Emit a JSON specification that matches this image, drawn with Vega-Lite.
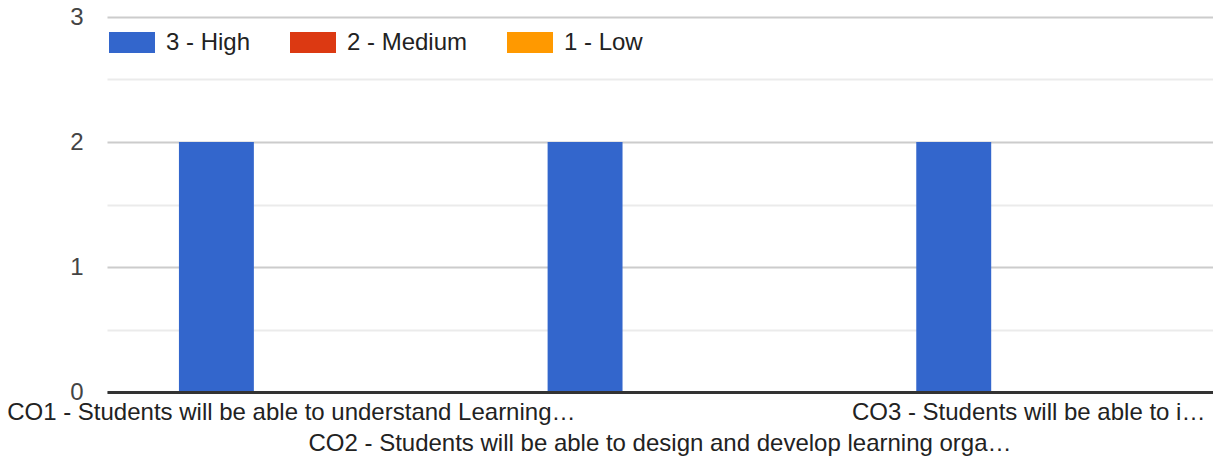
{
  "$schema": "https://vega.github.io/schema/vega-lite/v6.json",
  "autosize": {"type": "none"},
  "padding": {"left": 107, "top": 17, "right": 0, "bottom": 69},
  "width": 1106,
  "height": 375,
  "background": "white",
  "config": {
    "view": {"stroke": null},
    "font": "Liberation Sans"
  },
  "data": {
    "values": [
      {"course": "CO1 - Students will be able to understand Learning…", "level": "3 - High", "count": 2},
      {"course": "CO1 - Students will be able to understand Learning…", "level": "2 - Medium", "count": 0},
      {"course": "CO1 - Students will be able to understand Learning…", "level": "1 - Low", "count": 0},
      {"course": "CO2 - Students will be able to design and develop learning orga…", "level": "3 - High", "count": 2},
      {"course": "CO2 - Students will be able to design and develop learning orga…", "level": "2 - Medium", "count": 0},
      {"course": "CO2 - Students will be able to design and develop learning orga…", "level": "1 - Low", "count": 0},
      {"course": "CO3 - Students will be able to i…", "level": "3 - High", "count": 2},
      {"course": "CO3 - Students will be able to i…", "level": "2 - Medium", "count": 0},
      {"course": "CO3 - Students will be able to i…", "level": "1 - Low", "count": 0}
    ]
  },
  "mark": {"type": "bar"},
  "encoding": {
    "x": {
      "field": "course",
      "type": "nominal",
      "sort": null,
      "scale": {"paddingInner": 0, "paddingOuter": 0},
      "axis": {
        "title": null,
        "labelAngle": 0,
        "ticks": false,
        "domain": true,
        "domainColor": "#333333",
        "domainWidth": 3,
        "labelPadding": 8,
        "labelFontSize": 24,
        "labelColor": "#222222",
        "labelLimit": 0,
        "labelOverlap": false,
        "labelBaseline": "top",
        "labelLineHeight": 31,
        "labelExpr": "indexof(datum.label, 'CO2') == 0 ? ['', datum.label] : datum.label",
        "zindex": 1
      }
    },
    "xOffset": {
      "field": "level",
      "type": "nominal",
      "sort": ["3 - High", "2 - Medium", "1 - Low"],
      "scale": {"paddingInner": 0, "paddingOuter": 0.96}
    },
    "y": {
      "field": "count",
      "type": "quantitative",
      "scale": {"domain": [0, 3], "nice": false},
      "axis": {
        "title": null,
        "values": [0, 0.5, 1, 1.5, 2, 2.5, 3],
        "labelExpr": "datum.value % 1 == 0 ? format(datum.value, 'd') : ''",
        "domain": false,
        "ticks": false,
        "labelPadding": 24,
        "labelFontSize": 24,
        "labelColor": "#444444",
        "gridWidth": 2,
        "gridColor": {"condition": {"test": "datum.value % 1 == 0", "value": "#cccccc"}, "value": "#ebebeb"}
      }
    },
    "color": {
      "field": "level",
      "type": "nominal",
      "sort": ["3 - High", "2 - Medium", "1 - Low"],
      "scale": {"domain": ["3 - High", "2 - Medium", "1 - Low"], "range": ["#3366cc", "#dc3912", "#ff9900"]},
      "legend": {
        "title": null,
        "orient": "none",
        "legendX": 2,
        "legendY": 2.5,
        "direction": "horizontal",
        "symbolType": "M-1,-0.457H1V0.457H-1Z",
        "symbolSize": 2116,
        "symbolStrokeWidth": 0,
        "symbolOpacity": 1,
        "labelFontSize": 24,
        "labelColor": "#222222",
        "labelOffset": 11,
        "columnPadding": 39,
        "padding": 0,
        "labelLimit": 0
      }
    }
  }
}
